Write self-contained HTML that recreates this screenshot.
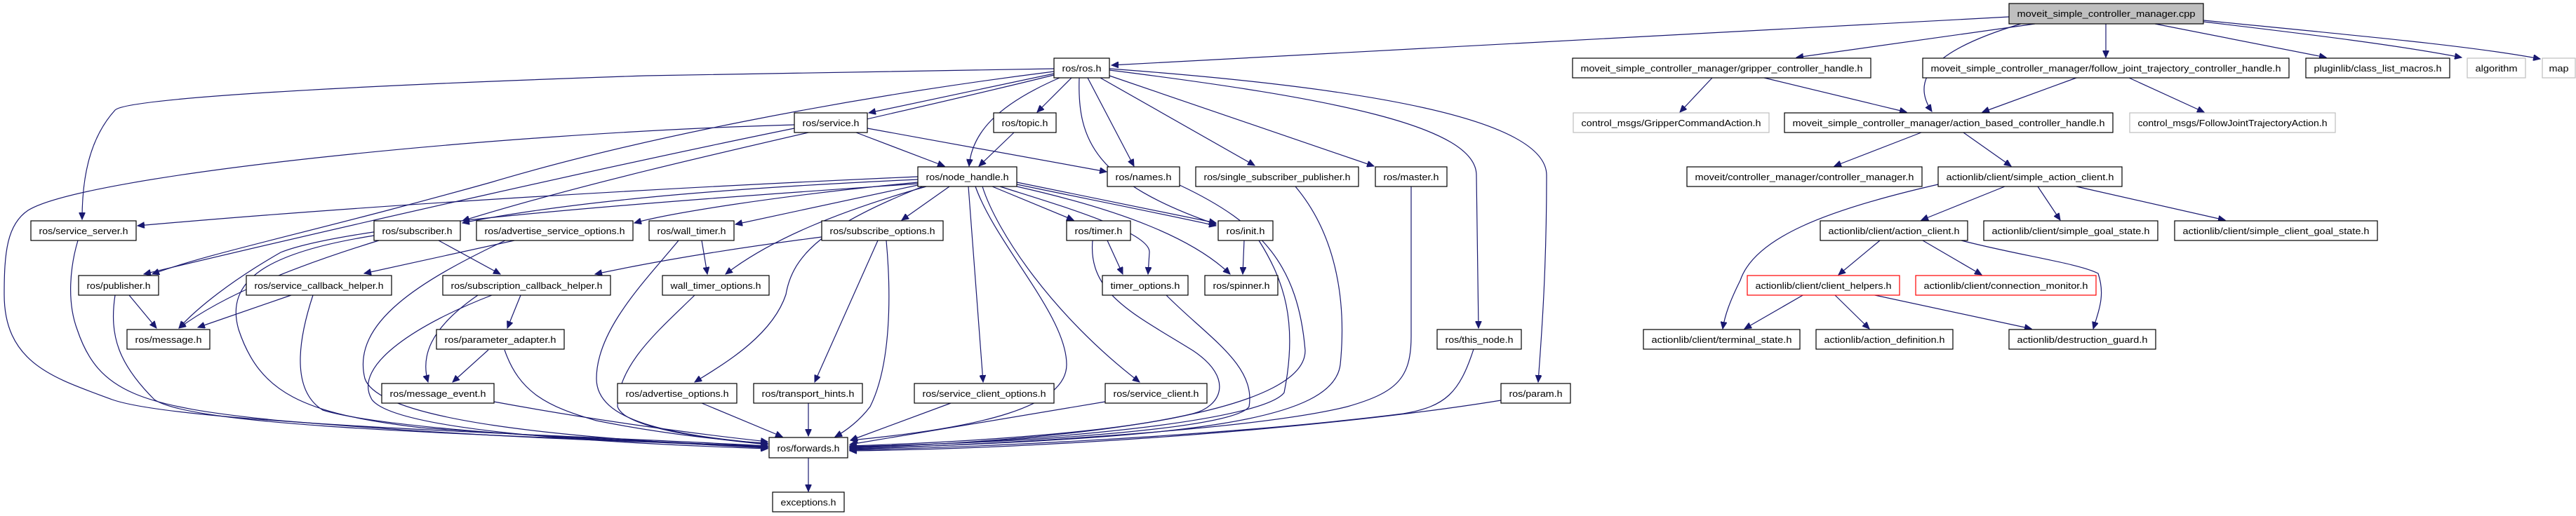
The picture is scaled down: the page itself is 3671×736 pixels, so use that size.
<!DOCTYPE html>
<html><head><meta charset="utf-8"><style>
html,body{margin:0;padding:0;background:#fff;}
svg{display:block;}
text{font-family:"Liberation Sans",sans-serif;font-size:13px;fill:#000;}
.e{fill:none;stroke:#191970;stroke-width:1.2;marker-end:url(#a);}
.n{fill:#fff;stroke:#000;stroke-width:1.2;}
.g{fill:#fff;stroke:#bfbfbf;stroke-width:1.2;}
.r{fill:#fff;stroke:#ff0000;stroke-width:1.2;}
</style></head><body>
<svg width="3671" height="736" viewBox="0 0 3671 736" xmlns="http://www.w3.org/2000/svg">
<defs><marker id="a" markerWidth="11" markerHeight="9" refX="10" refY="4.5" orient="auto" markerUnits="userSpaceOnUse"><path d="M0,0 L10,4.5 L0,9z" fill="#191970" stroke="#191970"/></marker></defs>
<g>
<!-- cpp edges -->
<path class="e" d="M2863,24 L1584,93"/>
<path class="e" d="M2900,34 L2560,82"/>
<path class="e" d="M2880,34 C2760,70 2720,110 2753,159"/>
<path class="e" d="M3001,34 L3001,82"/>
<path class="e" d="M3071,34 L3315,82"/>
<path class="e" d="M3140,31 C3300,50 3420,65 3508,82"/>
<path class="e" d="M3140,29 C3350,50 3520,65 3620,84"/>
<path class="e" d="M2440,111 L2394,160"/>
<path class="e" d="M2514,111 L2717,160"/>
<path class="e" d="M2959,111 L2825,160"/>
<path class="e" d="M3034,111 L3141,160"/>
<path class="e" d="M2738,189 L2614,237"/>
<path class="e" d="M2798,189 L2866,237"/>
<path class="e" d="M2857,266 L2738,314"/>
<path class="e" d="M2904,266 L2936,314"/>
<path class="e" d="M2959,266 L3171,314"/>
<path class="e" d="M2762,263 C2600,300 2500,340 2480,400 C2465,430 2458,450 2455,469"/>
<path class="e" d="M2679,343 L2620,392"/>
<path class="e" d="M2740,343 L2824,392"/>
<path class="e" d="M2795,343 C2880,365 2960,375 2990,390 C3000,420 2992,440 2983,469"/>
<path class="e" d="M2571,420 L2486,469"/>
<path class="e" d="M2614,420 L2664,469"/>
<path class="e" d="M2667,420 L2895,469"/>
<!-- ros edges -->
<path class="e" d="M1502,98 L920,108 C500,122 180,140 164,157 C125,200 117,260 117,313"/>
<path class="e" d="M1502,102 C1200,140 900,200 700,260 C450,330 300,360 217,391"/>
<path class="e" d="M1502,105 L1238,161"/>
<path class="e" d="M1502,107 C1250,170 900,240 659,315"/>
<path class="e" d="M1510,111 C1420,150 1385,190 1381,237"/>
<path class="e" d="M1527,111 L1478,160"/>
<path class="e" d="M1538,111 C1535,200 1560,260 1733,320"/>
<path class="e" d="M1550,111 L1616,237"/>
<path class="e" d="M1568,111 L1788,236"/>
<path class="e" d="M1581,108 L1958,237"/>
<path class="e" d="M1581,100 C1900,140 2104,180 2104,250 L2107,468"/>
<path class="e" d="M1581,98 C1950,125 2204,170 2204,250 C2204,400 2195,500 2192,545"/>
<!-- service / topic -->
<path class="e" d="M1220,189 L1346,237"/>
<path class="e" d="M1236,183 L1577,245"/>
<path class="e" d="M1132,183 C900,230 500,320 205,391"/>
<path class="e" d="M1445,189 L1395,237"/>
<path class="e" d="M1132,178 C700,190 120,250 40,300 C10,320 6,360 6,420 C6,520 80,540 160,570 C260,605 800,620 1094,636"/>
<!-- node_handle -->
<path class="e" d="M1308,252 C900,270 500,295 196,322"/>
<path class="e" d="M1308,256 C1000,270 800,290 659,318"/>
<path class="e" d="M1308,260 C1100,280 950,305 904,318"/>
<path class="e" d="M1308,264 L1048,320"/>
<path class="e" d="M1308,262 C900,290 500,320 400,360 C330,400 280,440 255,468"/>
<path class="e" d="M1320,266 C1200,300 1100,340 1034,391"/>
<path class="e" d="M1315,266 C1180,320 1130,360 1120,420 C1100,480 1030,520 990,545"/>
<path class="e" d="M1353,266 L1285,314"/>
<path class="e" d="M1414,266 L1530,314"/>
<path class="e" d="M1449,260 L1733,318"/>
<path class="e" d="M1449,263 C1580,290 1680,310 1733,322"/>
<path class="e" d="M1449,266 C1600,300 1700,340 1753,391"/>
<path class="e" d="M1425,266 C1500,290 1640,330 1638,360 L1636,391"/>
<path class="e" d="M1400,266 C1420,330 1500,450 1624,545"/>
<path class="e" d="M1380,266 L1401,545"/>
<path class="e" d="M1390,266 C1420,350 1520,450 1520,520 C1520,580 1400,610 1212,628"/>
<!-- mid -->
<path class="e" d="M1000,343 L1008,391"/>
<path class="e" d="M1578,343 L1600,391"/>
<path class="e" d="M1773,343 L1771,391"/>
<path class="e" d="M1251,343 L1161,545"/>
<path class="e" d="M1171,338 C1000,360 900,380 848,391"/>
<path class="e" d="M625,343 L713,391"/>
<path class="e" d="M733,343 L519,390"/>
<path class="e" d="M540,343 C420,380 320,420 255,468"/>
<path class="e" d="M184,421 L223,468"/>
<path class="e" d="M415,421 L282,467"/>
<path class="e" d="M742,421 L723,468"/>
<path class="e" d="M681,421 C610,470 600,510 610,545"/>
<path class="e" d="M696,499 L645,545"/>
<!-- to forwards -->
<path class="e" d="M111,343 C100,380 95,430 110,470 C140,560 200,580 400,600 C700,625 900,630 1094,636"/>
<path class="e" d="M164,421 C155,480 170,520 220,570 C280,610 700,620 1094,637"/>
<path class="e" d="M533,336 C380,360 320,400 340,470 C370,560 430,590 600,610 C800,625 1000,632 1094,638"/>
<path class="e" d="M446,421 C420,500 420,560 460,585 C560,615 900,630 1094,638"/>
<path class="e" d="M720,343 C600,400 500,460 520,540 C540,600 800,625 1094,639"/>
<path class="e" d="M701,421 C600,460 500,520 530,570 C560,610 800,630 1094,640"/>
<path class="e" d="M719,499 C740,560 780,580 850,600 C950,620 1050,630 1094,632"/>
<path class="e" d="M704,573 C850,600 1000,620 1094,630"/>
<path class="e" d="M967,343 C920,400 850,470 850,540 C850,600 950,620 1094,633"/>
<path class="e" d="M990,421 C940,470 880,520 880,580 C890,610 1000,625 1094,634"/>
<path class="e" d="M1000,575 L1115,623"/>
<path class="e" d="M1152,575 L1152,622"/>
<path class="e" d="M1263,343 C1270,420 1270,520 1240,580 C1225,600 1205,615 1190,623"/>
<path class="e" d="M1355,575 L1212,628"/>
<path class="e" d="M1575,573 L1211,634"/>
<path class="e" d="M1557,343 C1550,420 1620,450 1700,500 C1760,540 1740,580 1700,590 C1600,615 1400,630 1211,636"/>
<path class="e" d="M1661,420 C1720,480 1790,520 1780,580 C1760,610 1500,630 1211,637"/>
<path class="e" d="M1794,343 C1830,400 1850,460 1830,560 C1800,600 1500,630 1211,638"/>
<path class="e" d="M1681,264 C1800,320 1850,380 1860,500 C1860,580 1600,625 1211,639"/>
<path class="e" d="M1846,266 C1900,330 1920,420 1910,520 C1900,600 1700,625 1211,640"/>
<path class="e" d="M2011,266 L2011,480 C2011,540 1990,560 1920,580 C1800,610 1500,630 1211,641"/>
<path class="e" d="M2100,498 C2080,560 2060,580 2000,590 C1800,615 1500,635 1211,642"/>
<path class="e" d="M2139,571 C1900,610 1500,640 1211,643"/>
<path class="e" d="M1152,653 L1152,701"/>
</g>
<g>
<rect x="2863" y="5" width="277" height="29" fill="#bfbfbf" stroke="#000" stroke-width="1.2"/><text x="3001.5" y="24" text-anchor="middle" textLength="254" lengthAdjust="spacingAndGlyphs">moveit_simple_controller_manager.cpp</text>
<rect class="n" x="1502" y="83" width="79" height="28"/><text x="1541.5" y="102" text-anchor="middle" textLength="56" lengthAdjust="spacingAndGlyphs">ros/ros.h</text>
<rect class="n" x="2241" y="83" width="425" height="28"/><text x="2453.5" y="102" text-anchor="middle" textLength="402" lengthAdjust="spacingAndGlyphs">moveit_simple_controller_manager/gripper_controller_handle.h</text>
<rect class="n" x="2740" y="83" width="522" height="28"/><text x="3001" y="102" text-anchor="middle" textLength="499" lengthAdjust="spacingAndGlyphs">moveit_simple_controller_manager/follow_joint_trajectory_controller_handle.h</text>
<rect class="n" x="3286" y="83" width="205" height="28"/><text x="3388.5" y="102" text-anchor="middle" textLength="182" lengthAdjust="spacingAndGlyphs">pluginlib/class_list_macros.h</text>
<rect class="g" x="3516" y="83" width="83" height="28"/><text x="3557.5" y="102" text-anchor="middle" textLength="60" lengthAdjust="spacingAndGlyphs">algorithm</text>
<rect class="g" x="3623" y="83" width="47" height="28"/><text x="3646.5" y="102" text-anchor="middle" textLength="28" lengthAdjust="spacingAndGlyphs">map</text>
<rect class="n" x="1132" y="161" width="104" height="28"/><text x="1184" y="180" text-anchor="middle" textLength="81" lengthAdjust="spacingAndGlyphs">ros/service.h</text>
<rect class="n" x="1416" y="161" width="89" height="28"/><text x="1460.5" y="180" text-anchor="middle" textLength="66" lengthAdjust="spacingAndGlyphs">ros/topic.h</text>
<rect class="g" x="2242" y="161" width="279" height="28"/><text x="2381.5" y="180" text-anchor="middle" textLength="256" lengthAdjust="spacingAndGlyphs">control_msgs/GripperCommandAction.h</text>
<rect class="n" x="2543" y="161" width="468" height="28"/><text x="2777" y="180" text-anchor="middle" textLength="445" lengthAdjust="spacingAndGlyphs">moveit_simple_controller_manager/action_based_controller_handle.h</text>
<rect class="g" x="3035" y="161" width="293" height="28"/><text x="3181.5" y="180" text-anchor="middle" textLength="270" lengthAdjust="spacingAndGlyphs">control_msgs/FollowJointTrajectoryAction.h</text>
<rect class="n" x="1308" y="238" width="141" height="28"/><text x="1378.5" y="257" text-anchor="middle" textLength="118" lengthAdjust="spacingAndGlyphs">ros/node_handle.h</text>
<rect class="n" x="1578" y="238" width="103" height="28"/><text x="1629.5" y="257" text-anchor="middle" textLength="80" lengthAdjust="spacingAndGlyphs">ros/names.h</text>
<rect class="n" x="1704" y="238" width="232" height="28"/><text x="1820" y="257" text-anchor="middle" textLength="209" lengthAdjust="spacingAndGlyphs">ros/single_subscriber_publisher.h</text>
<rect class="n" x="1960" y="238" width="102" height="28"/><text x="2011" y="257" text-anchor="middle" textLength="79" lengthAdjust="spacingAndGlyphs">ros/master.h</text>
<rect class="n" x="2404" y="238" width="335" height="28"/><text x="2571.5" y="257" text-anchor="middle" textLength="312" lengthAdjust="spacingAndGlyphs">moveit/controller_manager/controller_manager.h</text>
<rect class="n" x="2762" y="238" width="262" height="28"/><text x="2893" y="257" text-anchor="middle" textLength="239" lengthAdjust="spacingAndGlyphs">actionlib/client/simple_action_client.h</text>
<rect class="n" x="44" y="315" width="150" height="28"/><text x="119" y="334" text-anchor="middle" textLength="127" lengthAdjust="spacingAndGlyphs">ros/service_server.h</text>
<rect class="n" x="533" y="315" width="123" height="28"/><text x="594.5" y="334" text-anchor="middle" textLength="100" lengthAdjust="spacingAndGlyphs">ros/subscriber.h</text>
<rect class="n" x="679" y="315" width="223" height="28"/><text x="790.5" y="334" text-anchor="middle" textLength="200" lengthAdjust="spacingAndGlyphs">ros/advertise_service_options.h</text>
<rect class="n" x="925" y="315" width="121" height="28"/><text x="985.5" y="334" text-anchor="middle" textLength="98" lengthAdjust="spacingAndGlyphs">ros/wall_timer.h</text>
<rect class="n" x="1171" y="315" width="173" height="28"/><text x="1257.5" y="334" text-anchor="middle" textLength="150" lengthAdjust="spacingAndGlyphs">ros/subscribe_options.h</text>
<rect class="n" x="1520" y="315" width="91" height="28"/><text x="1565.5" y="334" text-anchor="middle" textLength="68" lengthAdjust="spacingAndGlyphs">ros/timer.h</text>
<rect class="n" x="1736" y="315" width="78" height="28"/><text x="1775" y="334" text-anchor="middle" textLength="55" lengthAdjust="spacingAndGlyphs">ros/init.h</text>
<rect class="n" x="2594" y="315" width="210" height="28"/><text x="2699" y="334" text-anchor="middle" textLength="187" lengthAdjust="spacingAndGlyphs">actionlib/client/action_client.h</text>
<rect class="n" x="2827" y="315" width="248" height="28"/><text x="2951" y="334" text-anchor="middle" textLength="225" lengthAdjust="spacingAndGlyphs">actionlib/client/simple_goal_state.h</text>
<rect class="n" x="3099" y="315" width="289" height="28"/><text x="3243.5" y="334" text-anchor="middle" textLength="266" lengthAdjust="spacingAndGlyphs">actionlib/client/simple_client_goal_state.h</text>
<rect class="n" x="112" y="393" width="114" height="28"/><text x="169" y="412" text-anchor="middle" textLength="91" lengthAdjust="spacingAndGlyphs">ros/publisher.h</text>
<rect class="n" x="351" y="393" width="207" height="28"/><text x="454.5" y="412" text-anchor="middle" textLength="184" lengthAdjust="spacingAndGlyphs">ros/service_callback_helper.h</text>
<rect class="n" x="631" y="393" width="239" height="28"/><text x="750.5" y="412" text-anchor="middle" textLength="216" lengthAdjust="spacingAndGlyphs">ros/subscription_callback_helper.h</text>
<rect class="n" x="944" y="393" width="152" height="28"/><text x="1020" y="412" text-anchor="middle" textLength="129" lengthAdjust="spacingAndGlyphs">wall_timer_options.h</text>
<rect class="n" x="1571" y="393" width="122" height="28"/><text x="1632" y="412" text-anchor="middle" textLength="99" lengthAdjust="spacingAndGlyphs">timer_options.h</text>
<rect class="n" x="1717" y="393" width="104" height="28"/><text x="1769" y="412" text-anchor="middle" textLength="81" lengthAdjust="spacingAndGlyphs">ros/spinner.h</text>
<rect class="r" x="2490" y="393" width="217" height="28"/><text x="2598.5" y="412" text-anchor="middle" textLength="194" lengthAdjust="spacingAndGlyphs">actionlib/client/client_helpers.h</text>
<rect class="r" x="2730" y="393" width="257" height="28"/><text x="2858.5" y="412" text-anchor="middle" textLength="234" lengthAdjust="spacingAndGlyphs">actionlib/client/connection_monitor.h</text>
<rect class="n" x="181" y="470" width="118" height="28"/><text x="240" y="489" text-anchor="middle" textLength="95" lengthAdjust="spacingAndGlyphs">ros/message.h</text>
<rect class="n" x="622" y="470" width="182" height="28"/><text x="713" y="489" text-anchor="middle" textLength="159" lengthAdjust="spacingAndGlyphs">ros/parameter_adapter.h</text>
<rect class="n" x="2048" y="470" width="120" height="28"/><text x="2108" y="489" text-anchor="middle" textLength="97" lengthAdjust="spacingAndGlyphs">ros/this_node.h</text>
<rect class="n" x="2342" y="470" width="223" height="28"/><text x="2453.5" y="489" text-anchor="middle" textLength="200" lengthAdjust="spacingAndGlyphs">actionlib/client/terminal_state.h</text>
<rect class="n" x="2588" y="470" width="195" height="28"/><text x="2685.5" y="489" text-anchor="middle" textLength="172" lengthAdjust="spacingAndGlyphs">actionlib/action_definition.h</text>
<rect class="n" x="2863" y="470" width="209" height="28"/><text x="2967.5" y="489" text-anchor="middle" textLength="186" lengthAdjust="spacingAndGlyphs">actionlib/destruction_guard.h</text>
<rect class="n" x="544" y="547" width="160" height="28"/><text x="624" y="566" text-anchor="middle" textLength="137" lengthAdjust="spacingAndGlyphs">ros/message_event.h</text>
<rect class="n" x="880" y="547" width="170" height="28"/><text x="965" y="566" text-anchor="middle" textLength="147" lengthAdjust="spacingAndGlyphs">ros/advertise_options.h</text>
<rect class="n" x="1074" y="547" width="155" height="28"/><text x="1151.5" y="566" text-anchor="middle" textLength="132" lengthAdjust="spacingAndGlyphs">ros/transport_hints.h</text>
<rect class="n" x="1303" y="547" width="199" height="28"/><text x="1402.5" y="566" text-anchor="middle" textLength="176" lengthAdjust="spacingAndGlyphs">ros/service_client_options.h</text>
<rect class="n" x="1575" y="547" width="145" height="28"/><text x="1647.5" y="566" text-anchor="middle" textLength="122" lengthAdjust="spacingAndGlyphs">ros/service_client.h</text>
<rect class="n" x="2139" y="547" width="99" height="28"/><text x="2188.5" y="566" text-anchor="middle" textLength="76" lengthAdjust="spacingAndGlyphs">ros/param.h</text>
<rect class="n" x="1096" y="624" width="112" height="29"/><text x="1152" y="644" text-anchor="middle" textLength="89" lengthAdjust="spacingAndGlyphs">ros/forwards.h</text>
<rect class="n" x="1101" y="702" width="102" height="28"/><text x="1152" y="721" text-anchor="middle" textLength="79" lengthAdjust="spacingAndGlyphs">exceptions.h</text>
</g>
</svg>
</body></html>
